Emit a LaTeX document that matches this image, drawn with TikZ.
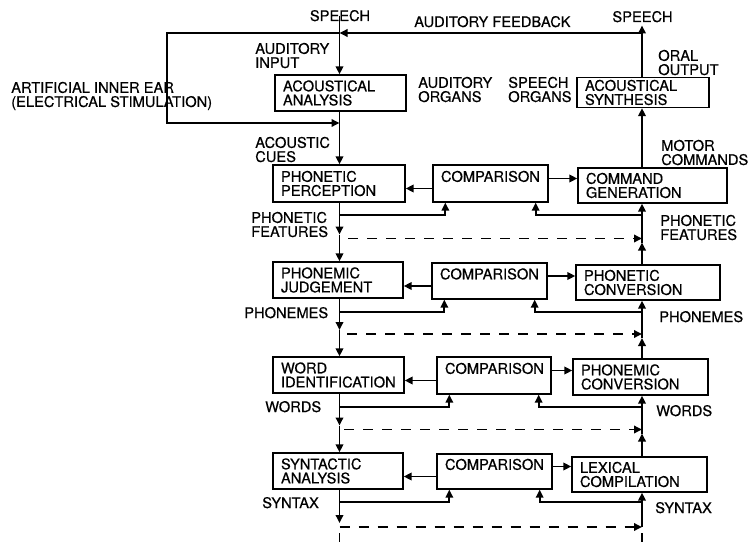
\documentclass[tikz,border=0pt]{standalone}
\usepackage{fontspec}
\setmainfont{TeX Gyre Heros}[FakeBold=0.5]
\usetikzlibrary{arrows.meta}
\newdimen\px
\px=0.75pt
\begin{document}
\begin{tikzpicture}[x=0.75pt,y=-0.75pt,
  font=\fontsize{11}{10.6}\selectfont,
  box/.style={draw, line width=1pt, inner xsep=8\px, inner ysep=0pt, align=left},
  lab/.style={inner sep=0pt, align=left, anchor=north west},
  labone/.style={inner sep=0pt, anchor=base west},
  conn/.style={line width=1.4pt},
  arr/.style={conn, -{Triangle[length=6pt,width=5.6pt]}},
  dsh/.style={conn, dash pattern=on 10\px off 9\px},
  darr/.style={dsh, -{Triangle[length=6pt,width=5.6pt]}},
]
\useasboundingbox (0,0) rectangle (750,542);
\coordinate (L) at (339.5,0);
\coordinate (R) at (642,0);

% boxes
\node[box, minimum width=131\px, text width=115\px, minimum height=36\px] (aa) at (340.5,93) {ACOUSTICAL\\ANALYSIS};
\node[box, minimum width=132\px, text width=116\px, minimum height=30\px] (as) at (643,92.5) {ACOUSTICAL\\SYNTHESIS};
\node[box, minimum width=132\px, text width=116\px, minimum height=37\px] (pp) at (339,183.5) {PHONETIC\\PERCEPTION};
\node[box, minimum width=115\px, text width=99\px, minimum height=37\px] (c1) at (490.5,183.5) {COMPARISON\\\phantom{C}};
\node[box, minimum width=149\px, text width=133\px, minimum height=35\px] (cg) at (652.5,185.5) {COMMAND\\GENERATION};
\node[box, minimum width=130\px, text width=114\px, minimum height=36\px] (pj) at (338,280) {PHONEMIC\\JUDGEMENT};
\node[box, minimum width=115\px, text width=99\px, minimum height=36\px] (c2) at (489.5,281) {COMPARISON\\\phantom{C}};
\node[box, minimum width=144\px, text width=128\px, minimum height=35\px] (pc) at (648,282.5) {PHONETIC\\CONVERSION};
\node[box, minimum width=131\px, text width=115\px, minimum height=36\px] (wi) at (338.5,375) {WORD\\IDENTIFICATION};
\node[box, minimum width=114\px, text width=98\px, minimum height=37\px] (c3) at (494,375.5) {COMPARISON\\\phantom{C}};
\node[box, minimum width=135\px, text width=119\px, minimum height=36\px] (mc) at (640.5,377) {PHONEMIC\\CONVERSION};
\node[box, minimum width=130\px, text width=114\px, minimum height=36\px] (sa) at (338,471) {SYNTACTIC\\ANALYSIS};
\node[box, minimum width=115\px, text width=99\px, minimum height=35\px] (c4) at (494.5,471.5) {COMPARISON\\\phantom{C}};
\node[box, minimum width=135\px, text width=119\px, minimum height=35\px] (lc) at (639.5,474.5) {LEXICAL\\COMPILATION};

% labels
\node[inner xsep=0pt, inner ysep=2.2pt, anchor=base] (spL) at (340,21) {SPEECH};
\node[inner xsep=0pt, inner ysep=2.2pt, anchor=base] (spR) at (642.5,22) {SPEECH};
\node[labone] (afb) at (414,27) {AUDITORY FEEDBACK};
\node[lab] (lai) at (255,42.6) {AUDITORY\\INPUT};
\node[lab] (lac) at (255,136.6) {ACOUSTIC\\CUES};
\node[lab] (lie) at (11,81.6) {ARTIFICIAL INNER EAR\\(ELECTRICAL STIMULATION)};
\node[lab] (lao) at (418,76.6) {AUDITORY\\ORGANS};
\node[lab] (lso) at (508,76.6) {SPEECH\\ORGANS};
\node[lab] (loo) at (658,49.6) {ORAL\\OUTPUT};
\node[lab] (lmc) at (661,139.6) {MOTOR\\COMMANDS};
\node[lab] (lpfa) at (251,211.6) {PHONETIC\\FEATURES};
\node[lab] (lpfb) at (660,214.6) {PHONETIC\\FEATURES};
\node[labone] (lpha) at (244,318) {PHONEMES};
\node[labone] (lphb) at (659,322) {PHONEMES};
\node[labone] (lwa) at (265,412) {WORDS};
\node[labone] (lwb) at (656,416) {WORDS};
\node[labone] (lsa) at (262,508) {SYNTAX};
\node[labone] (lsb) at (655,513) {SYNTAX};

% junction coordinates
\coordinate (fbR) at (642,33);
\coordinate (fbL) at (339.5,33);
\coordinate (ieA) at (167,33);
\coordinate (ieB) at (167,123);
\coordinate (ieC) at (339.5,123);

% top part
\draw[arr] (spL.center -| L) -- (aa.north -| L);
\draw[arr] (fbR) -- (fbL);
\draw[arr] (fbL) -- (ieA) -- (ieB) -- (ieC);
\draw[arr] (aa.south -| L) -- (pp.north -| L);
\draw[arr] (as.north -| R) -- (spR.south -| R);
\draw[arr] (cg.north -| R) -- (as.south -| R);

% comparison rows
\foreach \A/\C/\B in {pp/c1/cg, pj/c2/pc, wi/c3/mc, sa/c4/lc}{
  \path ([yshift=-5\px]\C.west) coordinate (\C l)
        ([yshift=5\px]\C.east) coordinate (\C r)
        ([yshift=-12\px]\C.south) coordinate (\C f)
        ([xshift=13\px]\C.south west) coordinate (\C fl)
        ([xshift=-13\px]\C.south east) coordinate (\C fr);
  \draw[arr] (\C l) -- (\C l -| \A.east);
  \draw[arr] (\C r) -- (\C r -| \B.west);
  \draw[arr] (\C f -| L) -| (\C fl);
  \draw[arr] (\C f -| R) -| (\C fr);
}

% mid coordinates of the columns
\coordinate (mlA) at (339.5,234.5);
\coordinate (mrA) at (642,242.5);
\coordinate (dlA) at (348,238.5);
\coordinate (drA) at (642,238.5);
\coordinate (mlB) at (339.5,330);
\coordinate (mrB) at (642,338);
\coordinate (dlB) at (347,334);
\coordinate (drB) at (642,334);
\coordinate (mlC) at (339.5,425.5);
\coordinate (mrC) at (642,433.5);
\coordinate (dlC) at (344,429.5);
\coordinate (drC) at (642,429.5);
\coordinate (mlD) at (339.5,523);
\coordinate (dlD) at (339.5,527);
\coordinate (drD) at (642,527);
\coordinate (elD) at (339.5,533);
\coordinate (elE) at (339.5,545);
\coordinate (erD) at (642,533);
\coordinate (erE) at (642,545);

% left column
\draw[arr] (pp.south -| L) -- (mlA);
\draw[arr] (mlA) -- (pj.north -| L);
\draw[arr] (pj.south -| L) -- (mlB);
\draw[arr] (mlB) -- (wi.north -| L);
\draw[arr] (wi.south -| L) -- (mlC);
\draw[arr] (mlC) -- (sa.north -| L);
\draw[arr] (sa.south -| L) -- (mlD);

% right column
\draw[arr] (pc.north -| R) -- (mrA);
\draw[arr] (mrA) -- (cg.south -| R);
\draw[arr] (mc.north -| R) -- (mrB);
\draw[arr] (mrB) -- (pc.south -| R);
\draw[arr] (lc.north -| R) -- (mrC);
\draw[arr] (mrC) -- (mc.south -| R);
\draw[arr] (drD) -- (lc.south -| R);

% dashed lines
\draw[darr] (dlA) -- (drA);
\draw[darr] (dlB) -- (drB);
\draw[darr] (dlC) -- (drC);
\draw[darr] (dlD) -- (drD);
\draw[dsh] (elD) -- (elE);
\draw[dsh] (erD) -- (erE);
\end{tikzpicture}
\end{document}
